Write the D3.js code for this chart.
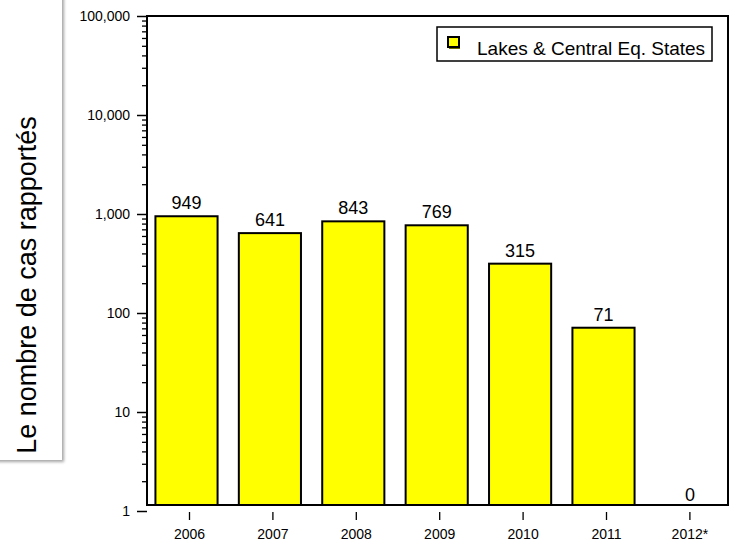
<!DOCTYPE html>
<html>
<head>
<meta charset="utf-8">
<script src="https://cdn.jsdelivr.net/npm/d3@7"></script>
<style>
  html, body { margin: 0; padding: 0; background: #fff; }
  svg { display: block; font-family: "Liberation Sans", Arial, Helvetica, sans-serif; }
</style>
</head>
<body>
<svg id="chart" width="730" height="547"></svg>
<script>
// Reported cases per year (2012 is provisional)
const years = ["2006", "2007", "2008", "2009", "2010", "2011", "2012*"];
const cases = [949, 641, 843, 769, 315, 71, 0];
const seriesName = "Lakes & Central Eq. States";
const yTickValues = [1, 10, 100, 1000, 10000, 100000];
const yTitle = "Le nombre de cas rapportés";

const svg = d3.select("#chart");

// Plot frame
const frame = { left: 147, right: 728, top: 16, bottom: 505 };

const x = d3.scaleBand()
  .domain(years)
  .range([147.8, 731.6])
  .paddingInner(0.255)
  .paddingOuter(0.1275);

const y = d3.scaleLog()
  .domain([1, 100000])
  .range([511, 16]);

const barShift = -3;

// Shadowed title panel on the left
const defs = svg.append("defs");
const shadow = defs.append("filter").attr("id", "shadow")
  .attr("x", "-20%").attr("y", "-5%").attr("width", "140%").attr("height", "110%");
shadow.append("feDropShadow")
  .attr("dx", 2).attr("dy", 2).attr("stdDeviation", 1.6)
  .attr("flood-color", "#000").attr("flood-opacity", 0.35);

svg.append("rect")
  .attr("x", -10).attr("y", -10)
  .attr("width", 72).attr("height", 470)
  .attr("fill", "#fff")
  .attr("filter", "url(#shadow)");

svg.append("text")
  .attr("transform", "translate(36,285) rotate(-90)")
  .attr("text-anchor", "middle")
  .attr("font-size", 27)
  .attr("fill", "#000")
  .text(yTitle);

// Bars
const valid = years.map((yr, i) => ({ year: yr, value: cases[i] }));

svg.append("g").selectAll("rect")
  .data(valid.filter(d => d.value > 0))
  .join("rect")
  .attr("x", d => x(d.year) + barShift)
  .attr("width", x.bandwidth())
  .attr("y", d => y(d.value))
  .attr("height", d => frame.bottom - y(d.value))
  .attr("fill", "#ffff00")
  .attr("stroke", "#000")
  .attr("stroke-width", 2);

// Value labels
svg.append("g").selectAll("text")
  .data(valid)
  .join("text")
  .attr("x", d => x(d.year) + barShift + x.bandwidth() / 2 + (d.value > 0 ? 0 : 3))
  .attr("y", d => d.value > 0 ? y(d.value) - 7 : frame.bottom - 4)
  .attr("text-anchor", "middle")
  .attr("font-size", 18)
  .attr("fill", "#000")
  .text(d => d3.format(",")(d.value));

// Frame
svg.append("rect")
  .attr("x", frame.left).attr("y", frame.top)
  .attr("width", frame.right - frame.left)
  .attr("height", frame.bottom - frame.top)
  .attr("fill", "none")
  .attr("stroke", "#000")
  .attr("stroke-width", 2);

// Y axis: major decades with labels, minor ticks between
const minorTicks = [];
for (let d = 1; d < 100000; d *= 10) {
  for (let m = 2; m <= 9; m++) minorTicks.push(d * m);
}

const yMajor = svg.append("g")
  .attr("transform", `translate(${frame.left},0)`)
  .call(d3.axisLeft(y).tickValues(yTickValues).tickFormat(d3.format(",")).tickSize(10).tickPadding(7));
yMajor.select(".domain").remove();
yMajor.selectAll("line").attr("stroke", "#000").attr("stroke-width", 1.5);
yMajor.selectAll("text").attr("font-size", 14).attr("fill", "#000")
  .attr("font-family", "Liberation Sans, Arial, sans-serif");

const yMinor = svg.append("g")
  .attr("transform", `translate(${frame.left},0)`)
  .call(d3.axisLeft(y).tickValues(minorTicks).tickFormat("").tickSize(5));
yMinor.select(".domain").remove();
yMinor.selectAll("line").attr("stroke", "#000").attr("stroke-width", 1.3);

// X axis
const xAxis = svg.append("g")
  .attr("transform", "translate(0,512)")
  .call(d3.axisBottom(x).tickSize(8).tickPadding(9));
xAxis.select(".domain").remove();
xAxis.selectAll("line").attr("stroke", "#000").attr("stroke-width", 1.3);
xAxis.selectAll("text").attr("font-size", 14).attr("fill", "#000")
  .attr("font-family", "Liberation Sans, Arial, sans-serif");

// Legend
const legend = svg.append("g");
legend.append("rect")
  .attr("x", 437).attr("y", 27).attr("width", 275).attr("height", 34)
  .attr("fill", "#fff").attr("stroke", "#000").attr("stroke-width", 1.5);
legend.append("rect")
  .attr("x", 449).attr("y", 38).attr("width", 11).attr("height", 11)
  .attr("fill", "#6b6b00");
legend.append("rect")
  .attr("x", 448).attr("y", 37).attr("width", 11).attr("height", 10)
  .attr("fill", "#ffff00").attr("stroke", "#000").attr("stroke-width", 2);
legend.append("text")
  .attr("x", 477).attr("y", 55)
  .attr("font-size", 19)
  .attr("fill", "#000")
  .text(seriesName);
</script>
</body>
</html>
